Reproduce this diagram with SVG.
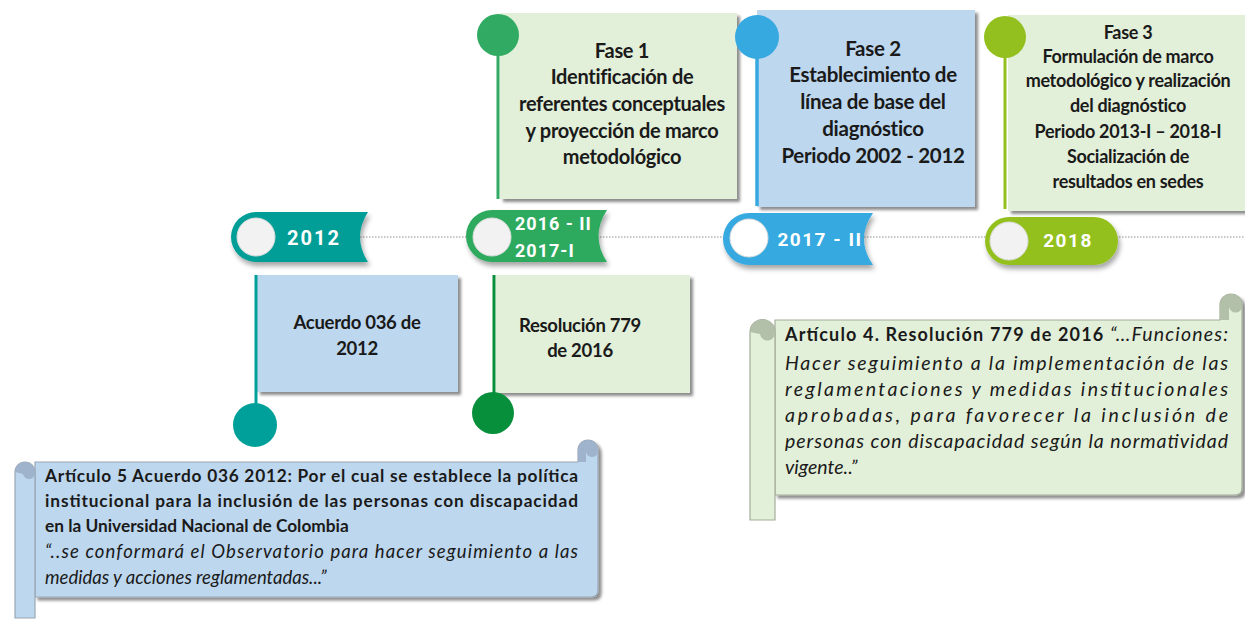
<svg xmlns="http://www.w3.org/2000/svg" width="1245" height="619" viewBox="0 0 1245 619">
<defs>
<filter id="sh" x="-10%" y="-10%" width="130%" height="130%"><feDropShadow dx="3" dy="3" stdDeviation="1.5" flood-color="#000" flood-opacity="0.45"/></filter>
<filter id="sh2" x="-20%" y="-20%" width="140%" height="150%"><feDropShadow dx="2" dy="4" stdDeviation="2.5" flood-color="#000" flood-opacity="0.35"/></filter>
</defs>
<style>
.bx{font-family:Lato,"Liberation Sans",sans-serif;font-weight:bold;fill:#1a1a1a;text-anchor:middle}
.bd{font-family:Roboto,"DejaVu Sans",sans-serif;font-weight:bold;fill:#fff}
.sc{font-family:Lato,"Liberation Sans",sans-serif;fill:#1a1a1a}
.b{font-weight:bold}
.i{font-style:italic}
.blue{fill:#bdd7ee}
.grn{fill:#e2efd9}
.circ{fill:#f2f2f2;stroke:#ddd;stroke-width:1}
</style>
<rect width="1245" height="619" fill="#fff"/>
<g id="connectors">
<line x1="240" y1="237" x2="1245" y2="237" stroke="#c8c8c8" stroke-width="2" stroke-dasharray="1.5 1.5"/>
</g>
<g id="fase1">
<rect x="500" y="13" width="237" height="186" class="grn" filter="url(#sh)"/>
<line x1="498" y1="40" x2="498" y2="199" stroke="#31ab63" stroke-width="3"/>
<circle cx="498" cy="35" r="21" fill="#31ab63"/>
<text class="bx" font-size="20" letter-spacing="-0.3"><tspan x="622" y="58">Fase 1</tspan><tspan x="622" y="84">Identificación de</tspan><tspan x="622" y="111">referentes conceptuales</tspan><tspan x="622" y="138">y proyección de marco</tspan><tspan x="622" y="164">metodológico</tspan></text>
</g>
<g id="fase2">
<rect x="757" y="10" width="218" height="197" class="blue" filter="url(#sh)"/>
<line x1="757" y1="40" x2="757" y2="206" stroke="#36a9e0" stroke-width="3.5"/>
<circle cx="757" cy="37" r="22" fill="#36a9e0"/>
<text class="bx" font-size="20.5" letter-spacing="-0.3"><tspan x="873" y="56">Fase 2</tspan><tspan x="873" y="82">Establecimiento de</tspan><tspan x="873" y="109">línea de base del</tspan><tspan x="873" y="136">diagnóstico</tspan><tspan x="873" y="163">Periodo 2002 - 2012</tspan></text>
</g>
<g id="fase3">
<rect x="1008" y="15" width="245" height="196" class="grn" filter="url(#sh)"/>
<line x1="1005" y1="40" x2="1005" y2="209" stroke="#93c01f" stroke-width="3"/>
<circle cx="1005" cy="37" r="21" fill="#93c01f"/>
<text class="bx" font-size="18" letter-spacing="-0.3"><tspan x="1128" y="39">Fase 3</tspan><tspan x="1128" y="63">Formulación de marco</tspan><tspan x="1128" y="87">metodológico y realización</tspan><tspan x="1128" y="112">del diagnóstico</tspan><tspan x="1128" y="138">Periodo 2013-I  –  2018-I</tspan><tspan x="1128" y="163">Socialización de</tspan><tspan x="1128" y="188">resultados en sedes</tspan></text>
</g>
<g id="badge2012">
<path d="M256,212 H368 Q352,237 368,262 H256 A25,25 0 0 1 256,212 Z" fill="#009e96" filter="url(#sh2)"/>
<circle cx="256" cy="237" r="19" class="circ"/>
<text class="bd" x="314" y="245" font-size="20" letter-spacing="2" text-anchor="middle">2012</text>
</g>
<g id="badge2016">
<path d="M492,210 H607 Q590,236 607,262 H492 A26,26 0 0 1 492,210 Z" fill="#2eaa5e" filter="url(#sh2)"/>
<circle cx="492" cy="237" r="19" class="circ"/>
<text class="bd" font-size="18" letter-spacing="1"><tspan x="515" y="230">2016 - II</tspan><tspan x="515" y="257">2017-I</tspan></text>
</g>
<g id="badge2017">
<path d="M749,213 H873 Q855,239 873,265 H749 A26,26 0 0 1 749,213 Z" fill="#36a9e0" filter="url(#sh2)"/>
<circle cx="749" cy="238" r="19" fill="#fff" stroke="#ddd"/>
<text class="bd" x="820" y="246" font-size="19" letter-spacing="1.5" text-anchor="middle">2017 - II</text>
</g>
<g id="badge2018">
<rect x="985" y="217" width="133" height="48" rx="24" fill="#93c01f" filter="url(#sh2)"/>
<circle cx="1009" cy="241" r="19" class="circ"/>
<text class="bd" x="1068" y="247" font-size="19" letter-spacing="1.5" text-anchor="middle">2018</text>
</g>
<g id="acuerdo">
<rect x="257" y="275" width="201" height="117" class="blue" filter="url(#sh)"/>
<line x1="256" y1="275" x2="256" y2="410" stroke="#00a09a" stroke-width="3"/>
<circle cx="255" cy="425" r="22" fill="#00a09a"/>
<text class="bx" font-size="18.5" letter-spacing="-0.3"><tspan x="357" y="329">Acuerdo 036 de</tspan><tspan x="357" y="355">2012</tspan></text>
</g>
<g id="resolucion">
<rect x="496" y="275" width="194" height="118" class="grn" filter="url(#sh)"/>
<line x1="494" y1="275" x2="494" y2="400" stroke="#078f3b" stroke-width="3"/>
<circle cx="493" cy="413" r="21" fill="#078f3b"/>
<text class="bx" font-size="18.5" letter-spacing="-0.3"><tspan x="580" y="332">Resolución 779</tspan><tspan x="580" y="357">de 2016</tspan></text>
</g>
<g id="scroll1">
<path d="M35,462 H578 V450 A10,10 0 0 1 598,450 V590 Q598,597 591,597 H35 Z" fill="#bdd7ee" stroke="#9aa7b4" stroke-width="1.2" filter="url(#sh)"/>
<path d="M578,462 V450 A10,10 0 0 1 598,450 A6,6 0 0 1 586,452 V462 Z" fill="#9fb4cc"/>
<path d="M15,472 A10,10 0 0 1 35,472 V618 H15 Z" fill="#bdd7ee" stroke="#9aa7b4" stroke-width="1.2"/>
<path d="M15,472 A10,10 0 0 1 35,472 A6,6 0 0 1 23,474 Z" fill="#9fb4cc"/>
<text class="sc"><tspan class="b" font-size="17.3" x="45" y="482" textLength="533" lengthAdjust="spacing">Artículo 5 Acuerdo 036 2012: Por el cual se establece la política</tspan><tspan class="b" font-size="17.3" x="45" y="507" textLength="533" lengthAdjust="spacing">institucional para la inclusión de las personas con discapacidad</tspan><tspan class="b" font-size="17.3" x="45" y="532">en la Universidad Nacional de Colombia</tspan><tspan class="i" font-size="18.5" x="45" y="558" textLength="533" lengthAdjust="spacing">“..se conformará el Observatorio para hacer seguimiento a las</tspan><tspan class="i" font-size="18.5" x="45" y="584">medidas y acciones reglamentadas...”</tspan></text>
</g>
<g id="scroll2">
<path d="M775,320 H1220 V305 A11,11 0 0 1 1242,305 V488 Q1242,495 1235,495 H775 Z" fill="#e2efd9" stroke="#a4ad9c" stroke-width="1.2" filter="url(#sh)"/>
<path d="M1220,320 V305 A11,11 0 0 1 1242,305 A6,6 0 0 1 1229,307 V320 Z" fill="#b2bfa9"/>
<path d="M750,332 A12.5,12.5 0 0 1 775,332 V520 H750 Z" fill="#e2efd9" stroke="#a4ad9c" stroke-width="1.2"/>
<path d="M750,332 A12.5,12.5 0 0 1 775,332 A7,7 0 0 1 760,334 Z" fill="#b2bfa9"/>
<text class="sc"><tspan x="785" y="341" textLength="443" lengthAdjust="spacing"><tspan class="b" font-size="18">Artículo 4. Resolución 779 de 2016 </tspan><tspan class="i" font-size="19.5">“…Funciones:</tspan></tspan><tspan class="i" font-size="19.5" x="785" y="370" textLength="443" lengthAdjust="spacing">Hacer seguimiento a la implementación de las</tspan><tspan class="i" font-size="19.5" x="785" y="396" textLength="443" lengthAdjust="spacing">reglamentaciones y medidas institucionales</tspan><tspan class="i" font-size="19.5" x="785" y="422" textLength="443" lengthAdjust="spacing">aprobadas, para favorecer la inclusión de</tspan><tspan class="i" font-size="19.5" x="785" y="448" textLength="443" lengthAdjust="spacing">personas con discapacidad según la normatividad</tspan><tspan class="i" font-size="19.5" x="785" y="474">vigente..”</tspan></text>
</g>
</svg>
